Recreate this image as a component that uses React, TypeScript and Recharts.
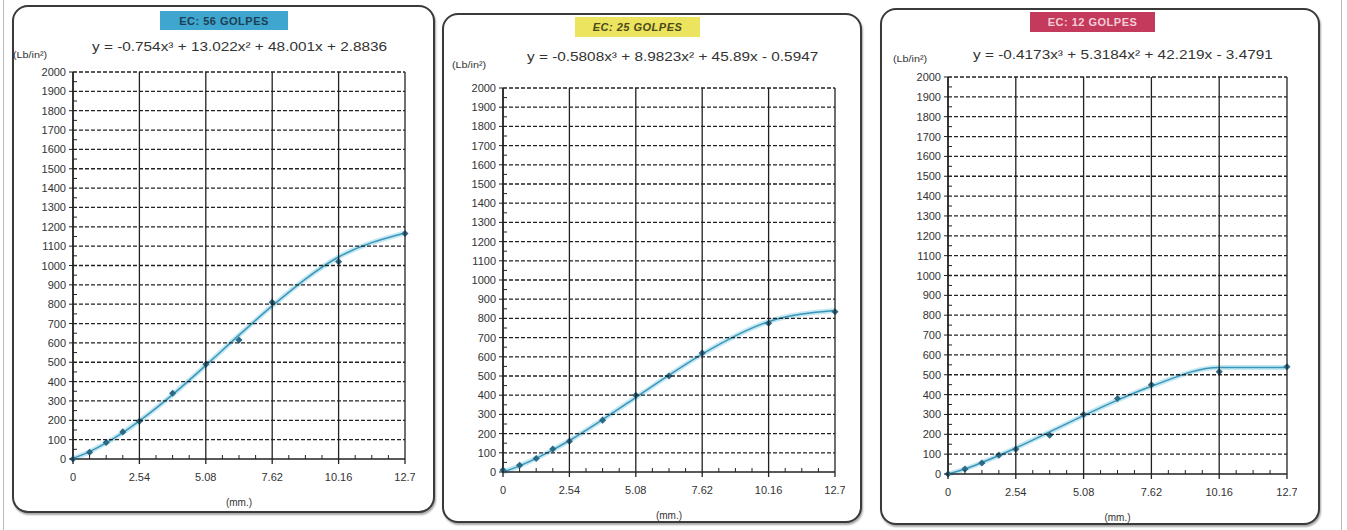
import React from 'react';
import { ComposedChart, Line, Scatter, XAxis, YAxis } from 'recharts';

// penetración (mm) y esfuerzo (Lb/in²)
const PENETRATION = [0, 0.635, 1.27, 1.905, 2.54, 3.81, 5.08, 6.35, 7.62, 10.16, 12.7];
const X_TICKS = [0, 2.54, 5.08, 7.62, 10.16, 12.7];
const X_MINOR = [0.635, 1.27, 1.905, 3.175, 3.81, 4.445, 5.715, 6.35, 6.985, 8.255, 8.89, 9.525, 10.795, 11.43, 12.065];
const Y_TICKS = [0, 100, 200, 300, 400, 500, 600, 700, 800, 900, 1000, 1100, 1200, 1300, 1400, 1500, 1600, 1700, 1800, 1900, 2000];
const Y_MINOR = [50, 150, 250, 350, 450, 550, 650, 750, 850, 950, 1050, 1150, 1250, 1350, 1450, 1550, 1650, 1750, 1850, 1950];

const GOLPES_56 = [0, 35, 85, 140, 195, 340, 490, 615, 810, 1020, 1165];
const TREND_56 = [3, 38, 83, 136, 197, 333, 484, 640, 791, 1044, 1168];
const GOLPES_25 = [10, 35, 70, 120, 160, 270, 400, 500, 620, 775, 835];
const TREND_25 = [0, 32, 71, 115, 164, 273, 388, 504, 614, 783, 841];
const GOLPES_12 = [0, 25, 55, 95, 125, 195, 300, 380, 450, 515, 540];
const TREND_12 = [0, 25, 58, 93, 131, 212, 294, 372, 442, 537, 536];

const FONT = '"Liberation Sans", Arial, sans-serif';
const INK = '#222';

const ALL_X = [...X_TICKS, ...X_MINOR].sort((a, b) => a - b);
const ALL_Y = [...Y_TICKS, ...Y_MINOR].sort((a, b) => a - b);

const Marker = (props: any) => {
  const { cx, cy } = props;
  if (cx == null || cy == null) return null;
  return <rect x={cx - 2.5} y={cy - 2.5} width={5} height={5} fill="#2a6a87" transform={`rotate(45 ${cx} ${cy})`} />;
};

// major ticks: label, outer mark and grid line; minor ticks: short inner mark
const makeXTick = (plotH: number) => (props: any) => {
  const { x, y, payload } = props;
  const major = X_TICKS.includes(payload.value);
  if (!major) return <line x1={x} x2={x} y1={y} y2={y - 4} stroke={INK} />;
  return (
    <g>
      <line x1={x} x2={x} y1={y + 5} y2={y - plotH} stroke={INK} strokeWidth={1.3} />
      <text x={x} y={y + 22} textAnchor="middle" fill="#333" fontSize={11} fontFamily={FONT}>{payload.value}</text>
    </g>
  );
};

const makeYTick = (plotW: number) => (props: any) => {
  const { x, y, payload } = props;
  const major = Y_TICKS.includes(payload.value);
  if (!major) return <line x1={x} x2={x + 4} y1={y} y2={y} stroke={INK} />;
  return (
    <g>
      <line x1={x - 4} x2={x} y1={y} y2={y} stroke={INK} />
      {payload.value > 0 && (
        <line x1={x} x2={x + plotW} y1={y} y2={y} stroke={INK} strokeWidth={1.3} strokeDasharray="4 2" />
      )}
      <text x={x - 7} y={y + 4} textAnchor="end" fill="#333" fontSize={11} fontFamily={FONT}>{payload.value}</text>
    </g>
  );
};

const panels = [
  {
    key: 'p56',
    box: { left: 12, top: 5, width: 423, height: 508 },
    plot: { left: 73, right: 405, top: 72, bottom: 459 },
    title: 'EC: 56 GOLPES', titleBg: '#3fa6cf', titleColor: '#1d3f52', titleItalic: false,
    titleBox: { left: 160, top: 11, width: 128, height: 19 },
    equation: 'y = -0.754x³ + 13.022x² + 48.001x + 2.8836', eq: { left: 92, top: 39 },
    unit: { left: 13, top: 50 },
    points: GOLPES_56, trend: TREND_56,
  },
  {
    key: 'p25',
    box: { left: 442, top: 13, width: 420, height: 510 },
    plot: { left: 503, right: 835, top: 88, bottom: 472 },
    title: 'EC: 25 GOLPES', titleBg: '#ece35e', titleColor: '#4a4a1a', titleItalic: true,
    titleBox: { left: 575, top: 17, width: 125, height: 20 },
    equation: 'y = -0.5808x³ + 8.9823x² + 45.89x - 0.5947', eq: { left: 527, top: 49 },
    unit: { left: 452, top: 60 },
    points: GOLPES_25, trend: TREND_25,
  },
  {
    key: 'p12',
    box: { left: 880, top: 8, width: 440, height: 517 },
    plot: { left: 948, right: 1287, top: 77, bottom: 474 },
    title: 'EC: 12 GOLPES', titleBg: '#c43a5c', titleColor: '#f5cdd6', titleItalic: false,
    titleBox: { left: 1030, top: 12, width: 125, height: 20 },
    equation: 'y = -0.4173x³ + 5.3184x² + 42.219x - 3.4791', eq: { left: 973, top: 47 },
    unit: { left: 893, top: 54 },
    points: GOLPES_12, trend: TREND_12,
  },
];

function Panel({ p }: { p: any }) {
  const rows = PENETRATION.map((x, i) => ({ x, value: p.points[i], trend: p.trend[i] }));
  const plotW = p.plot.right - p.plot.left;
  const plotH = p.plot.bottom - p.plot.top;
  const chartLeft = p.plot.left - 58;
  const chartTop = p.plot.top - 10;
  const width = plotW + 68;
  const height = plotH + 60;
  const XTick = makeXTick(plotH);
  const YTick = makeYTick(plotW);
  return (
    <>
      <div style={{
        position: 'absolute', left: p.box.left, top: p.box.top, width: p.box.width, height: p.box.height,
        boxSizing: 'border-box', border: '2px solid #3a3a3a', borderRadius: 16, background: '#fff',
        boxShadow: '1px 2px 2px rgba(0,0,0,0.35)'
      }} />
      <div style={{
        position: 'absolute', left: p.titleBox.left, top: p.titleBox.top, width: p.titleBox.width, height: p.titleBox.height,
        background: p.titleBg, color: p.titleColor, fontFamily: FONT, fontSize: 11, fontWeight: 'bold',
        fontStyle: p.titleItalic ? 'italic' : 'normal', display: 'flex', alignItems: 'center', justifyContent: 'center',
        letterSpacing: 0.5
      }}>{p.title}</div>
      <div style={{
        position: 'absolute', left: p.eq.left, top: p.eq.top, fontFamily: FONT, fontSize: 13, color: '#333',
        whiteSpace: 'nowrap', transform: 'scaleX(1.18)', transformOrigin: 'left center'
      }}>
        {p.equation}
      </div>
      <div style={{
        position: 'absolute', left: p.unit.left, top: p.unit.top, fontFamily: FONT, fontSize: 9, color: '#333',
        whiteSpace: 'nowrap', transform: 'scaleX(1.2)', transformOrigin: 'left center'
      }}>
        (Lb/in²)
      </div>
      <div style={{ position: 'absolute', left: chartLeft, top: chartTop }}>
        <ComposedChart width={width} height={height} data={rows} margin={{ top: 10, right: 10, left: 8, bottom: 0 }}>
          <XAxis dataKey="x" type="number" domain={[0, 12.7]} ticks={ALL_X} interval={0} height={50}
            axisLine={{ stroke: INK, strokeWidth: 1.5 }} tickLine={false} tickSize={0} tickMargin={0}
            tick={<XTick />}
            label={{ value: '(mm.)', position: 'insideBottom', offset: 3, fill: '#333', fontSize: 10, fontFamily: FONT }} />
          <YAxis type="number" domain={[0, 2000]} ticks={ALL_Y} width={50} interval={0}
            axisLine={{ stroke: INK, strokeWidth: 1.5 }} tickLine={false} tickSize={0} tickMargin={0}
            tick={<YTick />} />
          <Line dataKey="trend" type="monotone" dot={false} stroke="#c4e8f3" strokeWidth={5} isAnimationActive={false} />
          <Line dataKey="trend" type="monotone" dot={false} stroke="#3a96b8" strokeWidth={1.5} isAnimationActive={false} />
          <Scatter dataKey="value" shape={<Marker />} isAnimationActive={false} />
        </ComposedChart>
      </div>
    </>
  );
}

export default function App() {
  return (
    <div style={{ position: 'absolute', left: 0, top: 0, width: 1347, height: 530, background: '#fff', overflow: 'hidden' }}>
      <div style={{ position: 'absolute', left: 3, top: 0, width: 1, height: 530, background: '#bbb' }} />
      <div style={{ position: 'absolute', left: 1341, top: 0, width: 1, height: 530, background: '#bbb' }} />
      {panels.map(p => <Panel key={p.key} p={p} />)}
    </div>
  );
}
